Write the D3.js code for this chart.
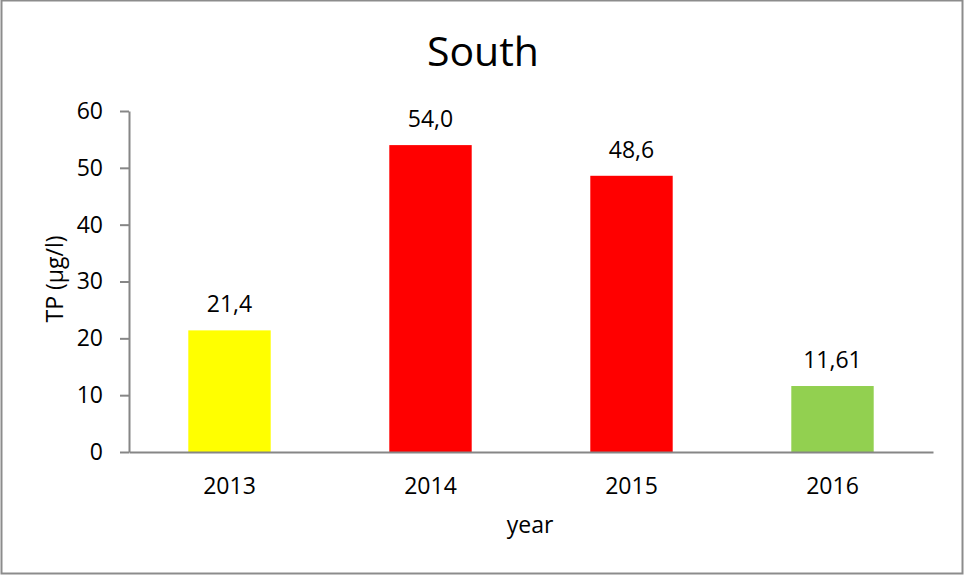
<!DOCTYPE html>
<html><head><meta charset="utf-8">
<script src="https://cdn.jsdelivr.net/npm/d3@7"></script>
<style>body{margin:0;background:#fff}svg{display:block}text{font-family:"Open Sans",Calibri,sans-serif;fill:#000}</style>
</head><body>
<script>
const categories = ["2013","2014","2015","2016"];
const values = [21.4, 54.0, 48.6, 11.61];
const valueLabels = ["21,4","54,0","48,6","11,61"];
const barColors = ["#ffff00","#ff0000","#ff0000","#92d050"];
const yTicks = [0,10,20,30,40,50,60];

const W=964,H=575;
const svg=d3.select("body").append("svg").attr("width",W).attr("height",H);
svg.append("rect").attr("x",1.5).attr("y",0.5).attr("width",W-3).attr("height",H-2)
  .attr("fill","#fff").attr("stroke","#8c8c8c").attr("stroke-width",2);

const L=129,R=933,T=111,B=452;
const FS=23;
const x=d3.scaleBand().domain(categories).range([L,R]).paddingInner(0.59).paddingOuter(0.295);
const y=d3.scaleLinear().domain([0,60]).range([B,T]);

svg.append("g").selectAll("rect").data(values).join("rect")
  .attr("x",(d,i)=>x(categories[i])).attr("width",x.bandwidth())
  .attr("y",d=>y(d)).attr("height",d=>B-y(d)).attr("fill",(d,i)=>barColors[i]);

const ya=svg.append("g").attr("transform",`translate(${L},0)`)
  .call(d3.axisLeft(y).tickValues(yTicks).tickSize(9).tickPadding(17).tickSizeOuter(0));
ya.select(".domain").attr("stroke","#868686").attr("stroke-width",2);
ya.selectAll(".tick line").attr("stroke","#868686").attr("stroke-width",2);
ya.selectAll(".tick text").attr("font-size",FS).attr("font-family","'Open Sans',sans-serif").attr("fill","#000");

const xa=svg.append("g").attr("transform",`translate(0,${B})`)
  .call(d3.axisBottom(x).tickSize(0).tickPadding(26).tickSizeOuter(0));
xa.select(".domain").attr("stroke","#868686").attr("stroke-width",2);
xa.selectAll(".tick text").attr("font-size",FS).attr("font-family","'Open Sans',sans-serif").attr("fill","#000");

svg.append("g").selectAll("text").data(values).join("text")
  .attr("x",(d,i)=>x(categories[i])+x.bandwidth()/2).attr("y",d=>y(d)-18)
  .attr("text-anchor","middle").attr("font-size",FS).text((d,i)=>valueLabels[i]);

svg.append("text").attr("x",483).attr("y",66).attr("text-anchor","middle").attr("font-size",41).text("South");
svg.append("text").attr("x",530).attr("y",533).attr("text-anchor","middle").attr("font-size",FS).text("year");
svg.append("text").attr("transform","translate(63,279) rotate(-90)").attr("text-anchor","middle").attr("font-size",FS).text("TP (µg/l)");
</script>
</body></html>
